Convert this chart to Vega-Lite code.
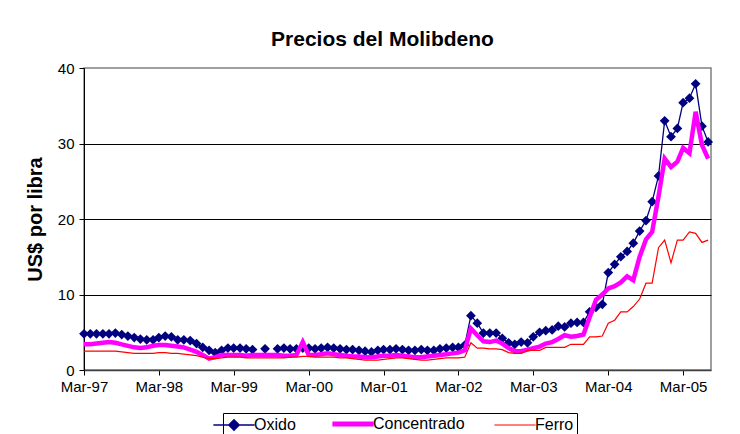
{
  "$schema": "https://vega.github.io/schema/vega-lite/v6.json",
  "width": 627,
  "height": 302,
  "autosize": "none",
  "padding": {"left": 84, "top": 68, "right": 29, "bottom": 64},
  "background": "white",
  "config": {
    "font": "Liberation Sans",
    "view": {"stroke": "#808080", "strokeWidth": 1.5}
  },
  "title": {"text": "Precios del Molibdeno", "fontSize": 21, "fontWeight": "bold", "font": "Liberation Sans", "color": "black", "offset": 11, "dx": -15},
  "data": {
    "values": [
      {"d":"1997/03/01","Oxido":4.8,"Concentrado":3.4,"Ferro":2.5},
      {"d":"1997/04/01","Oxido":4.8,"Concentrado":3.4,"Ferro":2.5},
      {"d":"1997/05/01","Oxido":4.8,"Concentrado":3.5,"Ferro":2.5},
      {"d":"1997/06/01","Oxido":4.8,"Concentrado":3.6,"Ferro":2.5},
      {"d":"1997/07/01","Oxido":4.8,"Concentrado":3.7,"Ferro":2.5},
      {"d":"1997/08/01","Oxido":4.9,"Concentrado":3.6,"Ferro":2.5},
      {"d":"1997/09/01","Oxido":4.7,"Concentrado":3.4,"Ferro":2.4},
      {"d":"1997/10/01","Oxido":4.5,"Concentrado":3.2,"Ferro":2.3},
      {"d":"1997/11/01","Oxido":4.3,"Concentrado":3.0,"Ferro":2.2},
      {"d":"1997/12/01","Oxido":4.1,"Concentrado":2.9,"Ferro":2.2},
      {"d":"1998/01/01","Oxido":4.0,"Concentrado":3.0,"Ferro":2.2},
      {"d":"1998/02/01","Oxido":4.0,"Concentrado":3.2,"Ferro":2.2},
      {"d":"1998/03/01","Oxido":4.3,"Concentrado":3.3,"Ferro":2.3},
      {"d":"1998/04/01","Oxido":4.5,"Concentrado":3.3,"Ferro":2.3},
      {"d":"1998/05/01","Oxido":4.4,"Concentrado":3.2,"Ferro":2.2},
      {"d":"1998/06/01","Oxido":4.0,"Concentrado":3.1,"Ferro":2.2},
      {"d":"1998/07/01","Oxido":4.0,"Concentrado":3.0,"Ferro":2.1},
      {"d":"1998/08/01","Oxido":3.9,"Concentrado":2.7,"Ferro":2.0},
      {"d":"1998/09/01","Oxido":3.5,"Concentrado":2.4,"Ferro":1.9},
      {"d":"1998/10/01","Oxido":3.0,"Concentrado":2.0,"Ferro":1.7},
      {"d":"1998/11/01","Oxido":2.6,"Concentrado":1.5,"Ferro":1.5},
      {"d":"1998/12/01","Oxido":2.3,"Concentrado":1.7,"Ferro":1.5},
      {"d":"1999/01/01","Oxido":2.6,"Concentrado":2.0,"Ferro":1.6},
      {"d":"1999/02/01","Oxido":2.9,"Concentrado":2.0,"Ferro":1.7},
      {"d":"1999/03/01","Oxido":2.9,"Concentrado":2.0,"Ferro":1.7},
      {"d":"1999/04/01","Oxido":2.9,"Concentrado":2.0,"Ferro":1.7},
      {"d":"1999/05/01","Oxido":2.8,"Concentrado":1.9,"Ferro":1.6},
      {"d":"1999/06/01","Oxido":2.7,"Concentrado":2.0,"Ferro":1.6},
      {"d":"1999/07/01","Oxido":null,"Concentrado":2.0,"Ferro":1.6},
      {"d":"1999/08/01","Oxido":2.8,"Concentrado":2.0,"Ferro":1.6},
      {"d":"1999/09/01","Oxido":null,"Concentrado":2.0,"Ferro":1.6},
      {"d":"1999/10/01","Oxido":2.8,"Concentrado":2.0,"Ferro":1.6},
      {"d":"1999/11/01","Oxido":2.9,"Concentrado":1.9,"Ferro":1.6},
      {"d":"1999/12/01","Oxido":2.8,"Concentrado":1.9,"Ferro":1.7},
      {"d":"2000/01/01","Oxido":2.8,"Concentrado":2.0,"Ferro":1.7},
      {"d":"2000/02/01","Oxido":2.9,"Concentrado":3.7,"Ferro":1.8},
      {"d":"2000/03/01","Oxido":2.9,"Concentrado":2.0,"Ferro":1.8},
      {"d":"2000/04/01","Oxido":2.8,"Concentrado":2.0,"Ferro":1.7},
      {"d":"2000/05/01","Oxido":2.9,"Concentrado":2.1,"Ferro":1.7},
      {"d":"2000/06/01","Oxido":3.0,"Concentrado":2.2,"Ferro":1.7},
      {"d":"2000/07/01","Oxido":2.9,"Concentrado":2.1,"Ferro":1.7},
      {"d":"2000/08/01","Oxido":2.8,"Concentrado":2.0,"Ferro":1.6},
      {"d":"2000/09/01","Oxido":2.7,"Concentrado":1.9,"Ferro":1.6},
      {"d":"2000/10/01","Oxido":2.7,"Concentrado":1.8,"Ferro":1.5},
      {"d":"2000/11/01","Oxido":2.6,"Concentrado":1.8,"Ferro":1.4},
      {"d":"2000/12/01","Oxido":2.5,"Concentrado":1.7,"Ferro":1.3},
      {"d":"2001/01/01","Oxido":2.4,"Concentrado":1.7,"Ferro":1.3},
      {"d":"2001/02/01","Oxido":2.6,"Concentrado":1.8,"Ferro":1.3},
      {"d":"2001/03/01","Oxido":2.7,"Concentrado":1.9,"Ferro":1.4},
      {"d":"2001/04/01","Oxido":2.7,"Concentrado":1.9,"Ferro":1.5},
      {"d":"2001/05/01","Oxido":2.8,"Concentrado":2.0,"Ferro":1.6},
      {"d":"2001/06/01","Oxido":2.7,"Concentrado":1.9,"Ferro":1.6},
      {"d":"2001/07/01","Oxido":2.6,"Concentrado":1.8,"Ferro":1.5},
      {"d":"2001/08/01","Oxido":2.6,"Concentrado":1.7,"Ferro":1.4},
      {"d":"2001/09/01","Oxido":2.7,"Concentrado":1.7,"Ferro":1.3},
      {"d":"2001/10/01","Oxido":2.6,"Concentrado":1.8,"Ferro":1.3},
      {"d":"2001/11/01","Oxido":2.6,"Concentrado":1.9,"Ferro":1.4},
      {"d":"2001/12/01","Oxido":2.8,"Concentrado":2.0,"Ferro":1.5},
      {"d":"2002/01/01","Oxido":2.9,"Concentrado":2.1,"Ferro":1.6},
      {"d":"2002/02/01","Oxido":3.0,"Concentrado":2.2,"Ferro":1.6},
      {"d":"2002/03/01","Oxido":3.0,"Concentrado":2.3,"Ferro":1.6},
      {"d":"2002/04/01","Oxido":3.3,"Concentrado":2.6,"Ferro":1.7},
      {"d":"2002/05/01","Oxido":7.2,"Concentrado":5.5,"Ferro":3.6},
      {"d":"2002/06/01","Oxido":6.2,"Concentrado":4.6,"Ferro":2.9},
      {"d":"2002/07/01","Oxido":4.9,"Concentrado":3.8,"Ferro":2.9},
      {"d":"2002/08/01","Oxido":4.9,"Concentrado":3.7,"Ferro":2.8},
      {"d":"2002/09/01","Oxido":4.9,"Concentrado":3.9,"Ferro":2.8},
      {"d":"2002/10/01","Oxido":4.2,"Concentrado":3.5,"Ferro":2.7},
      {"d":"2002/11/01","Oxido":3.6,"Concentrado":2.9,"Ferro":2.3},
      {"d":"2002/12/01","Oxido":3.4,"Concentrado":2.5,"Ferro":2.2},
      {"d":"2003/01/01","Oxido":3.7,"Concentrado":2.5,"Ferro":2.2},
      {"d":"2003/02/01","Oxido":3.6,"Concentrado":2.7,"Ferro":2.6},
      {"d":"2003/03/01","Oxido":4.4,"Concentrado":2.9,"Ferro":2.6},
      {"d":"2003/04/01","Oxido":5.0,"Concentrado":3.1,"Ferro":2.6},
      {"d":"2003/05/01","Oxido":5.2,"Concentrado":3.5,"Ferro":3.0},
      {"d":"2003/06/01","Oxido":5.3,"Concentrado":3.7,"Ferro":3.0},
      {"d":"2003/07/01","Oxido":5.8,"Concentrado":4.1,"Ferro":3.0},
      {"d":"2003/08/01","Oxido":5.7,"Concentrado":4.6,"Ferro":3.0},
      {"d":"2003/09/01","Oxido":6.2,"Concentrado":4.4,"Ferro":3.4},
      {"d":"2003/10/01","Oxido":6.3,"Concentrado":4.5,"Ferro":3.4},
      {"d":"2003/11/01","Oxido":6.3,"Concentrado":4.7,"Ferro":3.4},
      {"d":"2003/12/01","Oxido":7.7,"Concentrado":7.0,"Ferro":4.4},
      {"d":"2004/01/01","Oxido":8.3,"Concentrado":9.3,"Ferro":4.4},
      {"d":"2004/02/01","Oxido":8.7,"Concentrado":10.0,"Ferro":4.5},
      {"d":"2004/03/01","Oxido":12.9,"Concentrado":10.8,"Ferro":6.2},
      {"d":"2004/04/01","Oxido":14.0,"Concentrado":11.1,"Ferro":6.6},
      {"d":"2004/05/01","Oxido":15.0,"Concentrado":11.6,"Ferro":7.7},
      {"d":"2004/06/01","Oxido":15.7,"Concentrado":12.4,"Ferro":7.7},
      {"d":"2004/07/01","Oxido":16.8,"Concentrado":11.9,"Ferro":8.4},
      {"d":"2004/08/01","Oxido":18.4,"Concentrado":15.0,"Ferro":9.4},
      {"d":"2004/09/01","Oxido":19.8,"Concentrado":17.3,"Ferro":11.5},
      {"d":"2004/10/01","Oxido":22.3,"Concentrado":18.3,"Ferro":11.5},
      {"d":"2004/11/01","Oxido":25.7,"Concentrado":23.0,"Ferro":16.2},
      {"d":"2004/12/01","Oxido":33.0,"Concentrado":28.0,"Ferro":17.2},
      {"d":"2005/01/01","Oxido":30.9,"Concentrado":26.9,"Ferro":14.2},
      {"d":"2005/02/01","Oxido":32.0,"Concentrado":27.6,"Ferro":17.2},
      {"d":"2005/03/01","Oxido":35.4,"Concentrado":29.4,"Ferro":17.2},
      {"d":"2005/04/01","Oxido":36.0,"Concentrado":28.7,"Ferro":18.3},
      {"d":"2005/05/01","Oxido":37.9,"Concentrado":34.2,"Ferro":18.1},
      {"d":"2005/06/01","Oxido":32.3,"Concentrado":29.8,"Ferro":16.9},
      {"d":"2005/07/01","Oxido":30.2,"Concentrado":28.0,"Ferro":17.2}
    ]
  },
  "transform": [
    {"fold": ["Oxido", "Concentrado", "Ferro"], "as": ["serie", "valor"]}
  ],
  "encoding": {
    "x": {
      "field": "d", "type": "temporal", "title": null,
      "scale": {"domain": [{"year": 1997, "month": 3, "date": 1}, {"year": 2005, "month": 7, "date": 15}]},
      "axis": {
        "values": [
          {"year": 1997, "month": 3, "date": 1}, {"year": 1998, "month": 3, "date": 1},
          {"year": 1999, "month": 3, "date": 1}, {"year": 2000, "month": 3, "date": 1},
          {"year": 2001, "month": 3, "date": 1}, {"year": 2002, "month": 3, "date": 1},
          {"year": 2003, "month": 3, "date": 1}, {"year": 2004, "month": 3, "date": 1},
          {"year": 2005, "month": 3, "date": 1}
        ],
        "format": "%b-%y", "labelFontSize": 15, "labelColor": "black", "labelPadding": 4,
        "domainColor": "#404040", "domainWidth": 1.5, "tickColor": "black", "tickSize": 5,
        "grid": false, "labelFlush": false
      }
    },
    "y": {
      "field": "valor", "type": "quantitative",
      "scale": {"domain": [0, 40]},
      "axis": {
        "title": "US$ por libra", "titleFontSize": 20, "titleFontWeight": "bold", "titleColor": "black",
        "titlePadding": 12,
        "values": [0, 10, 20, 30, 40], "labelFontSize": 15, "labelColor": "black", "labelPadding": 5,
        "domainColor": "black", "tickColor": "black", "tickSize": 5,
        "grid": true,
        "gridColor": {"condition": {"test": "datum.value == 40 || datum.value == 0", "value": "transparent"}, "value": "black"},
        "gridOpacity": 1
      }
    },
    "color": {
      "field": "serie", "type": "nominal",
      "scale": {"domain": ["Oxido", "Concentrado", "Ferro"], "range": ["#000080", "#FF00FF", "#FF0000"]},
      "legend": {
        "orient": "none", "legendX": 139, "legendY": 345, "direction": "horizontal",
        "title": null, "labelFontSize": 16, "labelColor": "black", "symbolSize": 1700,
        "symbolType": "stroke", "symbolStrokeWidth": 1.5, "columnPadding": 26,
        "strokeColor": "black", "fillColor": "white", "padding": 3,
        "labelOffset": 12, "symbolOpacity": 1,
        "encode": {
          "symbols": {
            "update": {
              "shape": {"signal": "datum.value === 'Oxido' ? 'M-1,0L1,0M-0.25,0L0,-0.25L0.25,0L0,0.25Z' : 'stroke'"},
              "strokeWidth": {"signal": "datum.value === 'Concentrado' ? 5 : (datum.value === 'Oxido' ? 1.5 : 1.2)"},
              "fill": {"signal": "datum.value === 'Oxido' ? '#000080' : 'transparent'"}
            }
          }
        }
      }
    }
  },
  "layer": [
    {
      "transform": [{"filter": "datum.serie === 'Oxido'"}],
      "mark": {"type": "line", "strokeWidth": 1.3, "invalid": "break-paths-filter-domains"}
    },
    {
      "transform": [{"filter": "datum.serie === 'Oxido' && datum.valor != null"}],
      "mark": {"type": "point", "shape": "diamond", "filled": true, "size": 95, "opacity": 1}
    },
    {
      "transform": [{"filter": "datum.serie === 'Concentrado'"}],
      "mark": {"type": "line", "strokeWidth": 4.5}
    },
    {
      "transform": [{"filter": "datum.serie === 'Ferro'"}],
      "mark": {"type": "line", "strokeWidth": 1.2}
    }
  ]
}
